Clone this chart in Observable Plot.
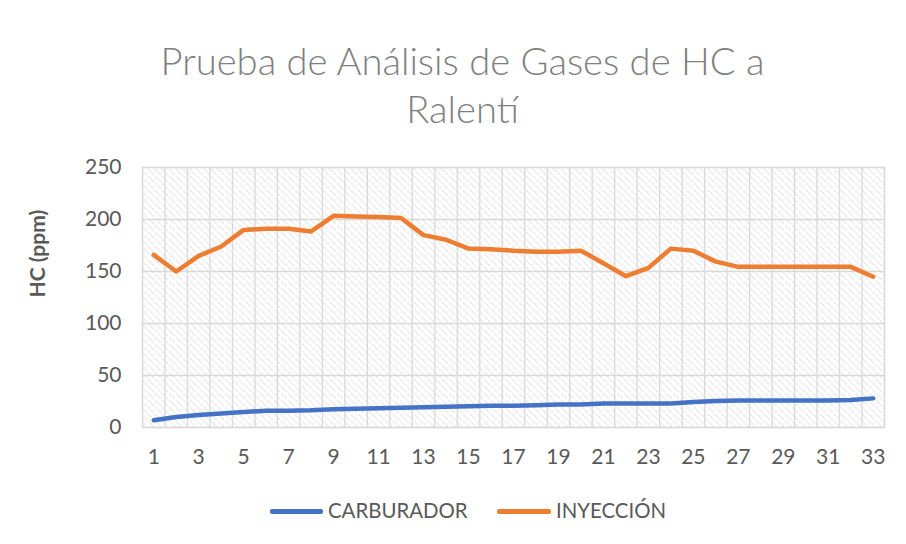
<!DOCTYPE html>
<html><head><meta charset="utf-8">
<script src="https://cdn.jsdelivr.net/npm/d3@7"></script>
<script src="https://cdn.jsdelivr.net/npm/@observablehq/plot@0.6"></script>
<style>
body{margin:0;background:#fff;font-family:Lato,"Open Sans",sans-serif;}
#wrap{position:relative;width:906px;height:544px;overflow:hidden;background:#fff;}
#title{position:absolute;left:0;top:36px;width:925px;text-align:center;font-family:Lato,sans-serif;font-weight:300;font-size:38.2px;line-height:48px;color:#7f7f7f;}
#chart{position:absolute;left:0;top:140px;}
.leg{position:absolute;top:498px;font-family:Lato,sans-serif;font-size:20.4px;color:#595959;line-height:24px;white-space:nowrap;}
</style></head>
<body><div id="wrap">
<div id="title">Prueba de Análisis de Gases de HC a<br>Ralentí</div>
<div id="chart"></div>
<div id="legend"></div>
</div>
<script>
const categories = [1,2,3,4,5,6,7,8,9,10,11,12,13,14,15,16,17,18,19,20,21,22,23,24,25,26,27,28,29,30,31,32,33];
const carburador = [7,10,12,13.5,15,16,16,16.5,17.5,18,18.5,19,19.5,20,20.5,21,21,21.5,22,22,23,23,23,23,24.5,25.5,26,26,26,26,26,26.5,28];
const inyeccion = [166,150,165,174,190,191,191,188.5,203.5,203,202.5,201.5,185,180.5,172,171.5,170,169,169,170,158,145.5,153.5,172,170,159.5,154.5,154.5,154.5,154.5,154.5,154.5,145];
const seriesNames = ["CARBURADOR","INYECCIÓN"];
const seriesColors = ["#4472C4","#ED7D31"];
const yTicks = [0,50,100,150,200,250];
const xTickLabels = [1,3,5,7,9,11,13,15,17,19,21,23,25,27,29,31,33];
const yLabel = "HC (ppm)";

const data = categories.flatMap((c,i)=>[
  {x:c, y:carburador[i], s:seriesNames[0]},
  {x:c, y:inyeccion[i], s:seriesNames[1]}
]);
const gridX = categories.map(c=>c-0.5).concat([categories[categories.length-1]+0.5]);

const svg = Plot.plot({
  width:906, height:345,
  marginTop:27, marginBottom:58, marginLeft:142, marginRight:22,
  x:{domain:[categories[0]-0.5, categories[categories.length-1]+0.5], axis:null},
  y:{domain:[yTicks[0], yTicks[yTicks.length-1]], axis:null},
  color:{domain:seriesNames, range:seriesColors},
  style:{fontFamily:"Lato, sans-serif", fontSize:"21px", color:"#595959", background:"transparent", overflow:"visible"},
  marks:[
    Plot.frame({fill:"url(#hatch)", stroke:"none"}),
    Plot.ruleX(gridX, {stroke:"#d9d9d9", strokeWidth:1.3, strokeOpacity:1}),
    Plot.ruleY(yTicks, {stroke:"#d9d9d9", strokeWidth:1.3, strokeOpacity:1}),
    Plot.frame({stroke:"#d9d9d9", strokeWidth:1.3}),
    Plot.axisY({ticks:yTicks, tickSize:0, tickPadding:21, label:null, fill:"#595959"}),
    Plot.axisX({ticks:xTickLabels, tickSize:0, tickPadding:22, label:null, fill:"#595959", tickFormat:d=>String(d)}),
    Plot.text([yLabel], {frameAnchor:"left", rotate:-90, dx:-104, fontWeight:"bold", fontSize:21, fill:"#595959"}),
    Plot.line(data, {x:"x", y:"y", stroke:"s", strokeWidth:4.5, strokeLinejoin:"round", strokeLinecap:"round"})
  ]
});

const ns = "http://www.w3.org/2000/svg";
const defs = document.createElementNS(ns,"defs");
defs.innerHTML = `<pattern id="hatch" patternUnits="userSpaceOnUse" width="7" height="7">
  <rect width="7" height="7" fill="#ffffff"/>
  <path d="M-1,-1 L8,8 M-1,6 L1,8 M6,-1 L8,1" stroke="#d2d2d2" stroke-width="1.3" stroke-dasharray="1.4 1.4"/>
</pattern>`;
svg.insertBefore(defs, svg.firstChild);
document.getElementById("chart").appendChild(svg);

// legend
const legend = document.getElementById("legend");
const legendPos = [[270,328],[497,556]];
seriesNames.forEach((n,i)=>{
  const sw = document.createElement("div");
  sw.style.cssText = `position:absolute;top:${498+11}px;left:${legendPos[i][0]}px;width:${legendPos[i][1]-legendPos[i][0]-5}px;height:4.5px;border-radius:2px;background:${seriesColors[i]}`;
  legend.appendChild(sw);
  const t = document.createElement("div");
  t.className="leg";
  t.style.left = legendPos[i][1]+"px";
  t.textContent = n;
  legend.appendChild(t);
});
</script>
</body></html>
